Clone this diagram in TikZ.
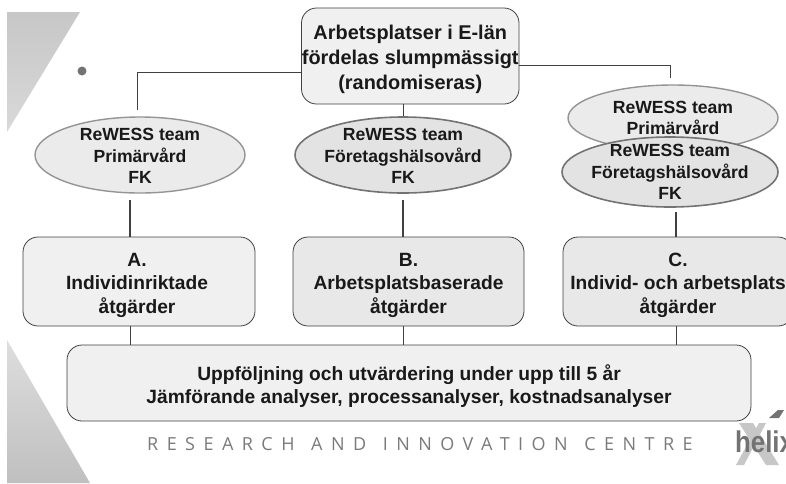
\documentclass[tikz,border=0pt]{standalone}
\usepackage{fontspec}
\setmainfont{Liberation Sans}
\usetikzlibrary{shapes.geometric}
\newfontfamily\strapfont[LetterSpace=47]{Open Sans}
\definecolor{lineDark}{gray}{0.25}
\tikzset{
  x=1pt,y=-1pt,
  lab/.style={font=\fontsize{19.2}{23.5}\selectfont\bfseries,align=center,text=black!90,inner sep=0pt},
  toplab/.style={font=\fontsize{19.9}{25}\selectfont\bfseries,align=center,text=black!90,inner sep=0pt},
  elab/.style={font=\fontsize{17.6}{21.5}\selectfont\bfseries,align=center,text=black!90,inner sep=0pt},
  boxlight/.style={draw=lineDark,line width=0.8pt,rounded corners=15pt,fill=black!6},
  boxmid/.style={draw=lineDark,line width=0.8pt,rounded corners=15pt,fill=black!9},
  ellA/.style={ellipse,draw=black!42,line width=1.4pt,fill=black!8,inner sep=0pt},
  ellB/.style={ellipse,draw=black!55,line width=1.6pt,fill=black!11,inner sep=0pt},
  conn/.style={draw=black!75,line width=0.8pt},
}
\begin{document}
\begin{tikzpicture}
\useasboundingbox (0,0) rectangle (786,483);
\clip (0,0) rectangle (786,483);
% corner shapes
\shade[top color=black!22,bottom color=black!15] (7,12) -- (80,12) -- (7,132) -- cycle;
\shade[top color=black!13,bottom color=black!25] (7,340) -- (90,483) -- (7,483) -- cycle;
\fill[black!55] (82,71) circle (4.5);
% strapline
\node[font=\strapfont\fontsize{18}{18}\selectfont,text=black!52,anchor=west,inner sep=0pt] (strap) at (147,444) {RESEARCH\hspace{3.5pt} AND\hspace{3.5pt} INNOVATION\hspace{3.5pt} CENTRE};
% helix logo
\fill[black!22] (739,423) -- (753,423) -- (779,465) -- (766,465) -- cycle;
\fill[black!22] (736,465) -- (744,465) -- (766,423) -- (759,423) -- cycle;
\fill[black!55] (769,418) -- (778,410) -- (784,410) -- (779,418) -- cycle;
\node[font=\fontsize{30}{30}\selectfont\bfseries,text=black!55,anchor=base west,inner sep=0pt] (helix) at (735,452) {\scalebox{.86}[1]{helix}};
% coordinates
\coordinate (lfree) at (137,110);
\coordinate (rfree) at (670,78);
% boxes
\node[boxlight,minimum width=217.5pt,minimum height=96pt] (top) at (410.25,56) {};
\node[toplab] (topt) at (410.25,59) {Arbetsplatser i E-län\\fördelas slumpmässigt\\(randomiseras)};
\node[boxlight,minimum width=232pt,minimum height=89pt] (A) at (139,281.5) {};
\node[lab] (At) at (137,285) {A.\\Individinriktade\\åtgärder};
\node[boxmid,minimum width=231pt,minimum height=89pt] (B) at (408.5,281.5) {};
\node[lab] (Bt) at (408.5,285) {B.\\Arbetsplatsbaserade\\åtgärder};
\node[boxmid,minimum width=230pt,minimum height=89pt] (C) at (678,281.5) {};
\node[lab] (Ct) at (678,285) {C.\\Individ- och arbetsplats\\åtgärder};
\node[boxlight,minimum width=684pt,minimum height=76pt] (F) at (409,383) {};
\node[lab] (Ft) at (409,386) {Uppföljning och utvärdering under upp till 5 år\\Jämförande analyser, processanalyser, kostnadsanalyser};
% ellipses
\node[ellA,minimum width=210pt,minimum height=76pt] (e1) at (140,155) {};
\node[elab] (e1t) at (140,156) {ReWESS team\\Primärvård\\FK};
\node[ellB,minimum width=216pt,minimum height=76pt] (e2) at (403,155) {};
\node[elab] (e2t) at (403,156) {ReWESS team\\Företagshälsovård\\FK};
\node[ellA,minimum width=210pt,minimum height=66pt] (e3) at (673,118) {};
\node[ellB,minimum width=216pt,minimum height=70pt] (e4) at (670,172) {};
\node[elab] (e4t) at (670,172) {ReWESS team\\Företagshälsovård\\FK};
\node[elab] (e3t) at (673,118) {ReWESS team\\Primärvård};
% connectors
\coordinate (g1) at (130,200);
\coordinate (g2) at (403,200);
\coordinate (g3) at (676,212);
\draw[conn] (top.west |- 0,72) -| (lfree);
\draw[conn] (top.east |- 0,65) -| (rfree);
\draw[conn] (top.south -| e2) -- (e2.north);
\draw[conn,line width=1.2pt] (g1) -- (g1 |- A.north);
\draw[conn,line width=1.2pt] (g2) -- (g2 |- B.north);
\draw[conn,line width=1.2pt] (g3) -- (g3 |- C.north);
\draw[conn] (g1 |- A.south) -- (g1 |- F.north);
\draw[conn] (g2 |- B.south) -- (g2 |- F.north);
\draw[conn] (g3 |- C.south) -- (g3 |- F.north);
\end{tikzpicture}
\end{document}
